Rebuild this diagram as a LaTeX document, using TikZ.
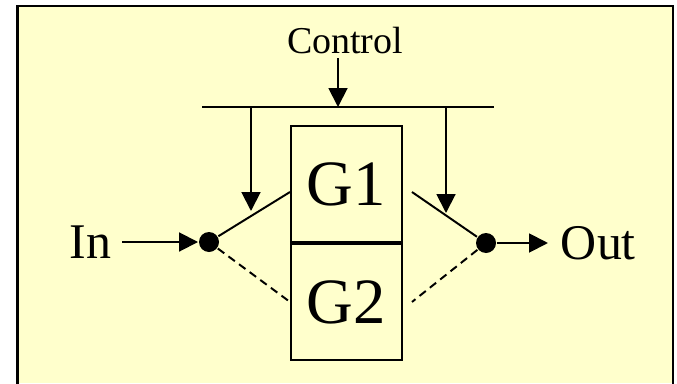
\documentclass[tikz,border=0pt]{standalone}
\usepackage{fontspec}
\setmainfont{Liberation Serif}
\usepackage{xcolor}
\usetikzlibrary{arrows.meta,positioning,calc}
\definecolor{paleyellow}{HTML}{FFFFCC}

\begin{document}
\begin{tikzpicture}[
    line width=1.4pt,
    arr/.style={-{Triangle[length=0.47cm,width=0.47cm]}},
    gate/.style={draw, minimum width=2.775cm, minimum height=2.9cm, inner sep=0pt, font=\fontsize{46}{46}\selectfont},
    contact/.style={circle, fill=black, minimum size=0.5cm, inner sep=0pt},
    lbl/.style={inner sep=0pt, font=\fontsize{35.5}{36}\selectfont},
    blade dash/.style={dash pattern=on 0.2cm off 0.13cm}
]
    \useasboundingbox (0,0) rectangle (16.925,9.575);

    % Background panel (open at the bottom)
    \fill[paleyellow] (0.4375,0) rectangle (16.825,9.425);
    \draw[line width=2.1pt] (0.4375,-0.1) -- (0.4375,9.425) -- (16.825,9.425) -- (16.825,-0.1);

    % Gates
    \node[gate] (g1) at (8.6625,4.975) {G1};
    \node[gate, below=0pt of g1] (g2) {G2};

    % Switch contacts
    \node[contact] (ls) at (5.225,3.525) {};
    \node[contact] (rs) at (12.15,3.5) {};

    % Input and output
    \node[lbl, left=2.15cm of ls] (in) {In};
    \node[lbl, right=1.575cm of rs] (out) {Out};
    \draw[arr, shorten <=0.25cm] (in) -- (ls);
    \draw[arr, shorten >=0.3cm] (rs) -- (out);

    % Switch blades: solid to G1, dashed to G2
    \draw (ls) -- ([yshift=-0.2cm]g1.west);
    \draw[blade dash] (ls) -- (g2.west);
    \draw (rs) -- ([shift={(0.225,-0.2)}]g1.east);
    \draw[blade dash] (rs) -- ([xshift=0.225cm]g2.east);

    % Control bus
    \node[inner sep=0pt, font=\fontsize{27}{27}\selectfont, anchor=base] (ctrl) at (8.625,8.25) {Control};
    \coordinate (busL) at (5.05,6.9);
    \coordinate (busR) at (12.35,6.9);
    \coordinate (busC) at (8.45,6.9);
    \draw (busL) -- (busR);
    \draw[arr, shorten <=0.1cm] (ctrl.south -| busC) -- (busC);

    % Drops onto the blades
    \coordinate (dropL) at (6.275,6.9);
    \coordinate (tipL) at (6.275,4.3);
    \coordinate (dropR) at (11.15,6.9);
    \coordinate (tipR) at (11.15,4.25);
    \draw[arr] (dropL) -- (tipL);
    \draw[arr] (dropR) -- (tipR);
\end{tikzpicture}
\end{document}
